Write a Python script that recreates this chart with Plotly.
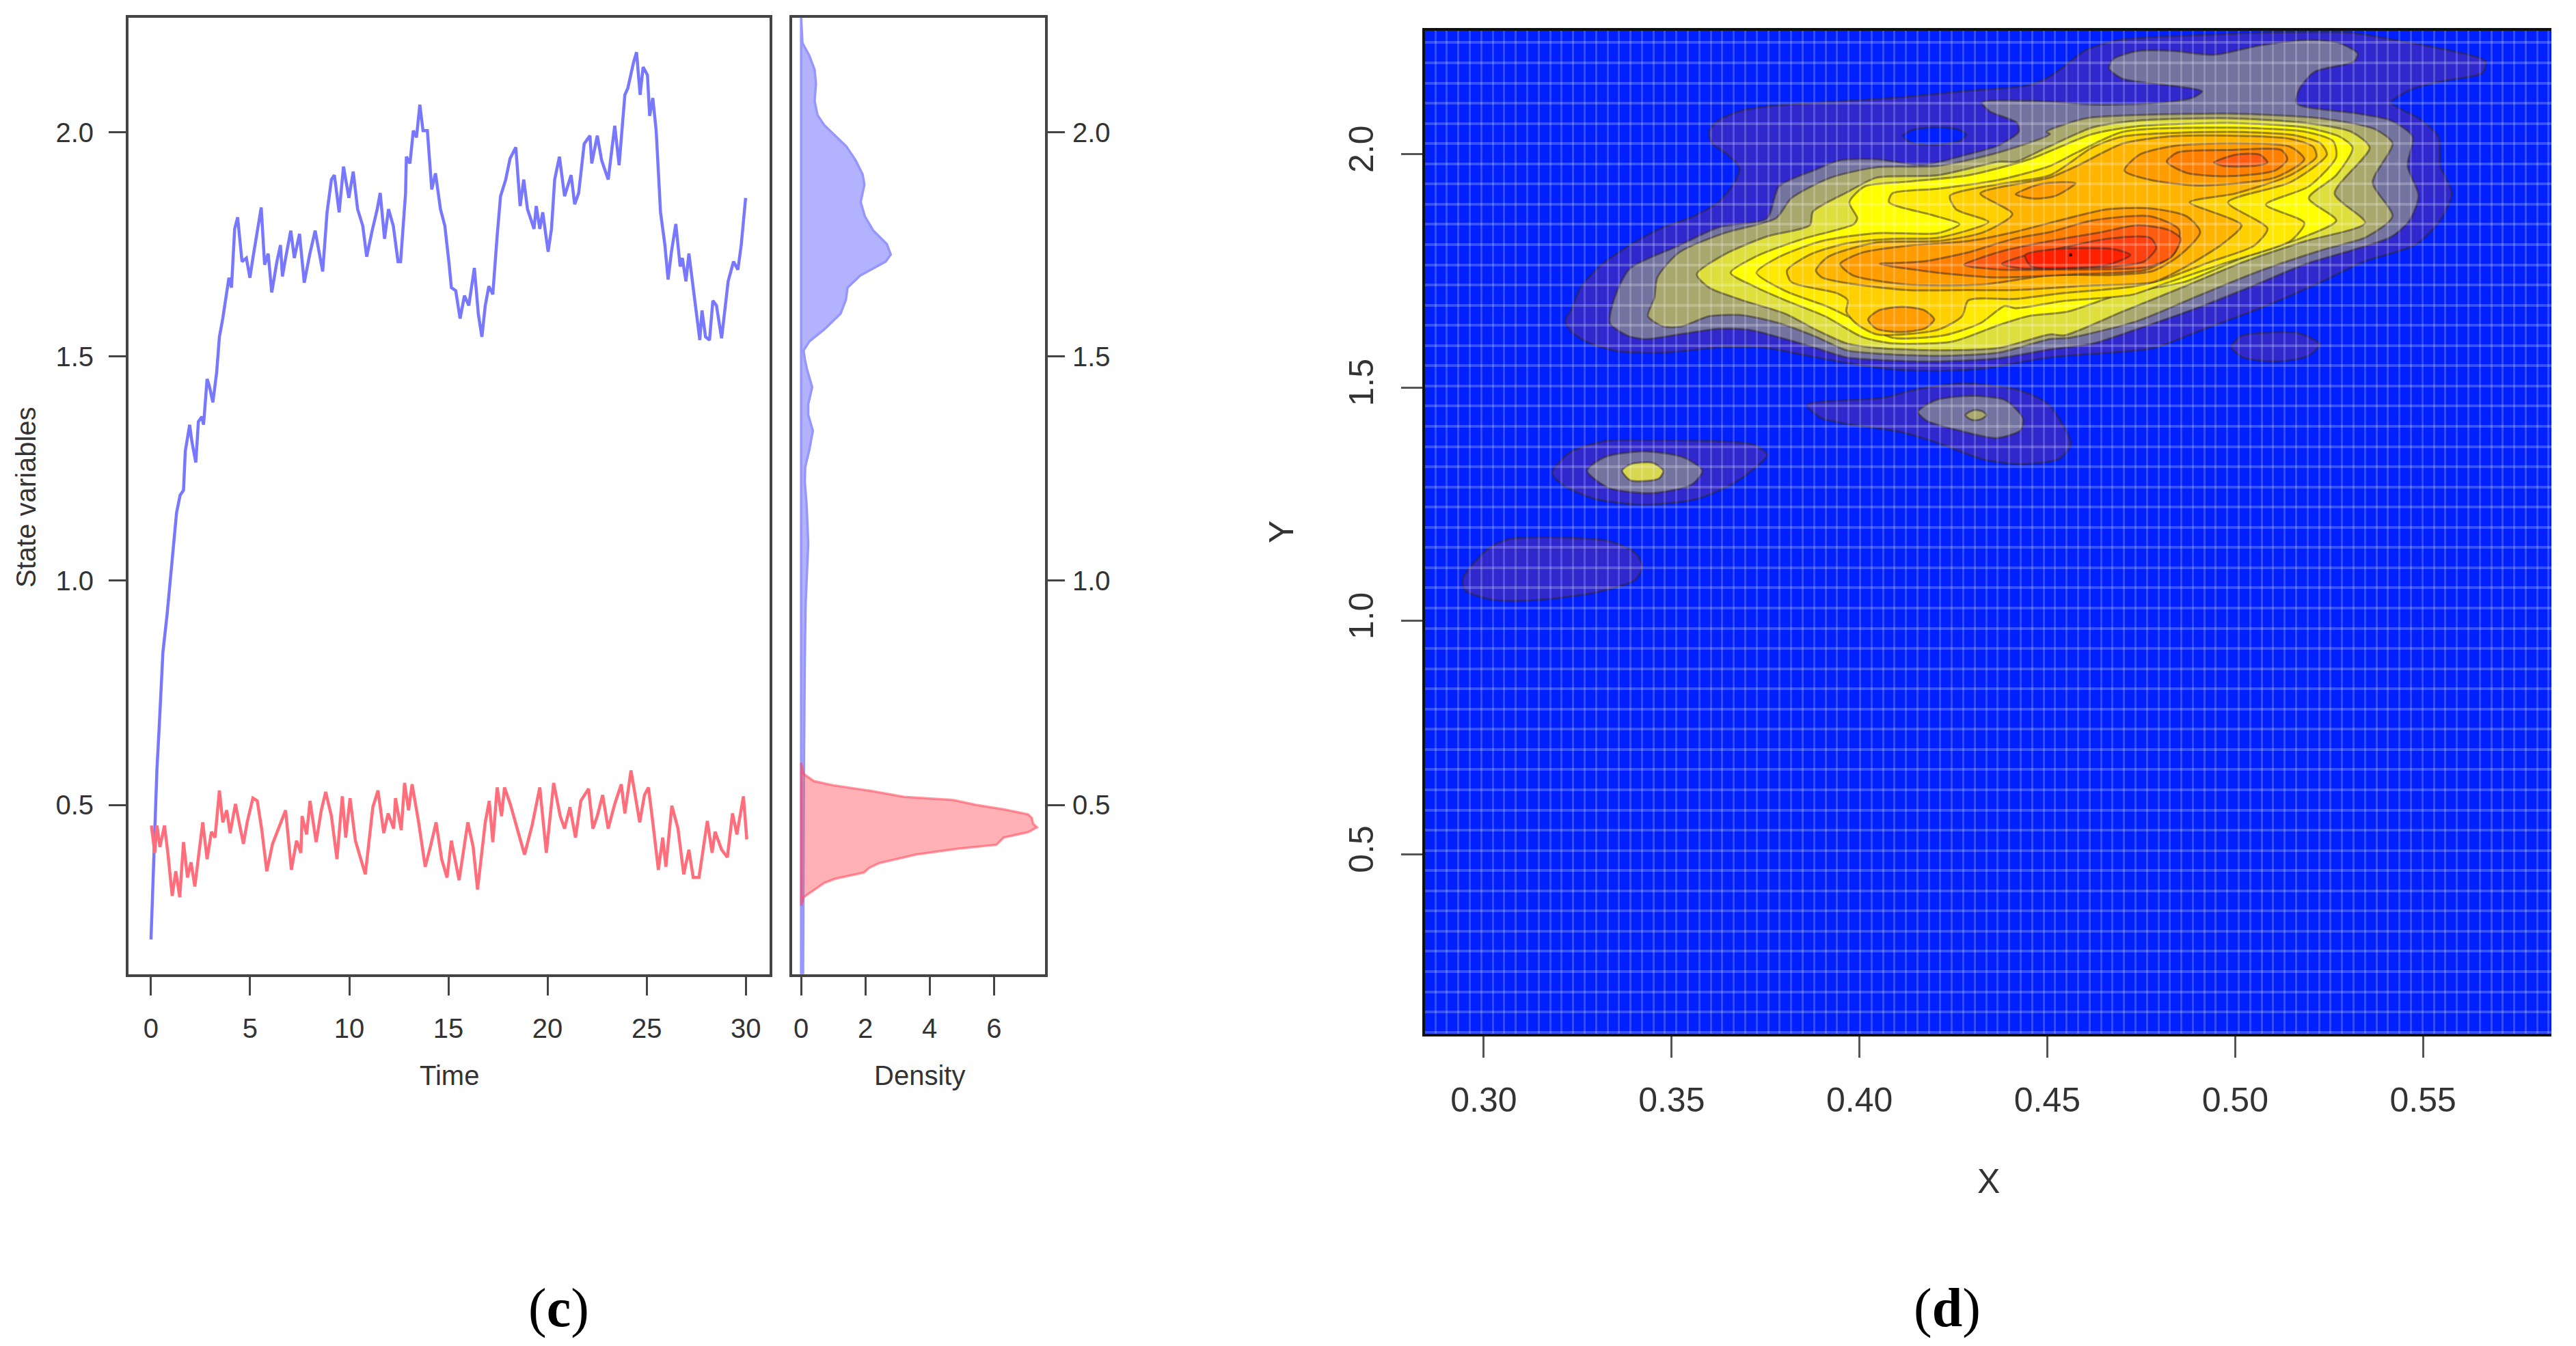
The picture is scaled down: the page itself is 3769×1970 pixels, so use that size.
import plotly.graph_objects as go

W, H = 3769, 1970

# ---------- panel (c): state trajectories (time, state) ----------
blue_path = [(0,.2),(.1,.33),(.2,.47),(.3,.58),(.41,.67),(.5,.76),(.6,.84),(.81,.924),(1.0,1.02),(1.15,1.08),
(1.29,1.152),(1.47,1.191),(1.64,1.202),(1.73,1.289),(1.95,1.348),(2.06,1.311),(2.26,1.264),(2.39,1.355),(2.57,1.366),(2.65,1.348),
(2.83,1.45),(2.94,1.435),(3.12,1.398),(3.31,1.464),(3.45,1.544),(3.62,1.585),(3.82,1.639),(3.93,1.676),(4.06,1.654),(4.22,1.785),
(4.37,1.811),(4.59,1.712),(4.81,1.72),(4.99,1.676),(5.14,1.72),(5.36,1.778),(5.56,1.833),(5.73,1.705),(5.91,1.73),(6.09,1.643),
(6.35,1.712),(6.53,1.749),(6.63,1.679),(6.79,1.72),(7.05,1.781),(7.23,1.72),(7.49,1.774),(7.73,1.665),(8.0,1.727),(8.28,1.781),
(8.46,1.741),(8.66,1.69),(8.88,1.822),(9.1,1.895),(9.25,1.905),(9.49,1.822),(9.71,1.924),(9.98,1.854),(10.2,1.913),(10.42,1.829),
(10.68,1.792),(10.88,1.723),(11.14,1.778),(11.41,1.829),(11.56,1.865),(11.78,1.763),(11.98,1.829),(12.22,1.792),(12.46,1.712),(12.59,1.712),
(12.84,1.865),(12.88,1.946),(13.06,1.931),(13.23,2.004),(13.39,1.989),(13.56,2.062),(13.72,2.004),(13.94,2.004),(14.16,1.873),(14.35,1.909),
(14.6,1.829),(14.82,1.792),(15.04,1.705),(15.15,1.654),(15.37,1.647),(15.59,1.585),(15.81,1.636),(16.03,1.614),(16.31,1.698),(16.51,1.595),
(16.69,1.544),(16.86,1.614),(17.04,1.657),(17.24,1.639),(17.46,1.77),(17.63,1.858),(17.89,1.895),(18.11,1.942),(18.4,1.967),(18.62,1.836),
(18.8,1.895),(18.99,1.829),(19.32,1.785),(19.43,1.836),(19.61,1.785),(19.76,1.822),(20.03,1.734),(20.2,1.785),(20.36,1.895),(20.6,1.946),
(20.86,1.858),(21.19,1.905),(21.37,1.84),(21.57,1.865),(21.85,1.975),(22.14,1.993),(22.23,1.931),(22.51,1.993),(22.73,1.938),(23.06,1.895),
(23.39,2.015),(23.61,1.927),(23.9,2.084),(24.05,2.099),(24.34,2.157),(24.49,2.179),(24.67,2.084),(24.82,2.146),(25.04,2.128),(25.15,2.037),
(25.31,2.077),(25.48,2.004),(25.7,1.822),(25.92,1.749),(26.08,1.672),(26.25,1.734),(26.47,1.796),(26.69,1.701),(26.8,1.72),(26.98,1.668),
(27.13,1.73),(27.35,1.654),(27.68,1.537),(27.79,1.603),(27.97,1.544),(28.17,1.537),(28.34,1.625),(28.52,1.614),(28.78,1.541),(29.11,1.668),
(29.38,1.712),(29.6,1.694),(29.77,1.749),(29.99,1.854)]

red_path = [(.02,.454),(.19,.393),(.30,.454),(.45,.406),(.68,.454),(.85,.393),(1.07,.297),(1.25,.352),(1.45,.294),(1.64,.417),
(1.84,.338),(2.02,.372),(2.21,.318),(2.39,.379),(2.61,.461),(2.83,.379),(3.05,.44),(3.23,.427),(3.45,.532),(3.62,.461),
(3.82,.488),(3.99,.437),(4.26,.502),(4.66,.413),(4.85,.461),(5.14,.515),(5.36,.509),(5.58,.447),(5.84,.352),(6.13,.413),
(6.35,.437),(6.79,.488),(7.08,.355),(7.34,.42),(7.56,.393),(7.62,.475),(7.85,.434),(8.02,.509),(8.33,.417),(8.59,.488),
(8.81,.529),(9.1,.475),(9.38,.379),(9.65,.519),(9.82,.427),(10.04,.515),(10.31,.42),(10.81,.345),(11.19,.495),(11.45,.532),
(11.74,.437),(11.96,.481),(12.24,.447),(12.33,.515),(12.62,.444),(12.79,.549),(12.99,.488),(13.17,.546),(13.5,.461),(13.83,.362),
(14.09,.406),(14.38,.461),(14.66,.379),(14.93,.338),(15.15,.42),(15.54,.332),(15.98,.461),(16.25,.406),(16.47,.311),(16.86,.461),
(17.06,.509),(17.24,.417),(17.46,.539),(17.68,.475),(17.83,.539),(18.12,.502),(18.84,.389),(19.22,.454),(19.61,.539),(19.94,.393),
(20.31,.549),(20.64,.475),(20.86,.447),(21.13,.495),(21.41,.427),(21.68,.509),(22.07,.536),(22.29,.447),(22.51,.475),(22.78,.522),
(23.06,.447),(23.39,.502),(23.72,.546),(23.9,.481),(24.21,.577),(24.65,.461),(24.89,.522),(25.09,.539),(25.31,.461),(25.59,.355),
(25.81,.427),(25.97,.362),(26.27,.498),(26.58,.447),(26.87,.345),(27.13,.4),(27.35,.338),(27.64,.338),(28.06,.464),(28.3,.393),
(28.45,.44),(28.78,.4),(29.07,.383),(29.33,.481),(29.55,.434),(29.88,.519),(30.05,.423)]

# marginal densities (density, state)
blue_density = [(0,2.257),(.04,2.2),(.257,2.171),(.42,2.14),(.46,2.109),(.42,2.07),(.509,2.039),(.725,2.016),(1.408,1.969),(1.696,1.938),
(1.912,1.907),(1.969,1.884),(1.854,1.845),(1.984,1.813),(2.236,1.782),(2.667,1.751),(2.789,1.728),(2.631,1.712),(1.84,1.681),(1.444,1.654),
(1.394,1.627),(1.228,1.596),(.725,1.561),(.257,1.534),(.077,1.514),(.113,1.495),(.185,1.471),(.343,1.432),(.221,1.394),(.221,1.37),
(.365,1.335),(.257,1.293),(.128,1.254),(.113,1.222),(.171,1.168),(.221,1.083),(.14,.95),(.11,.8),(.09,.6),(.08,.4),(.07,.2),(.06,.125),(0,.125)]

red_density = [(0,.594),(.077,.569),(.401,.553),(.977,.544),(2.2,.531),(3.2,.518),(4.72,.511),(5.44,.5),(6.3,.49),(7.06,.479),
(7.18,.471),(7.22,.458),(7.34,.45),(7.06,.439),(6.3,.427),(6.08,.411),(4.86,.402),(3.57,.389),(2.42,.37),(2.13,.36),
(1.95,.349),(1.05,.335),(.725,.326),(.33,.307),(.077,.294),(0,.275)]

time_ticks = [0, 5, 10, 15, 20, 25, 30]
state_ticks = [0.5, 1.0, 1.5, 2.0]
state_labels = ["0.5", "1.0", "1.5", "2.0"]
density_ticks = [0, 2, 4, 6]
x_ticks = [0.30, 0.35, 0.40, 0.45, 0.50, 0.55]
x_labels = ["0.30", "0.35", "0.40", "0.45", "0.50", "0.55"]

# ---------- panel (d): contour bands of the joint density (x, y) ----------
band1 = [(.3234,1.619),(.3283,1.595),(.3356,1.578),(.3478,1.575),(.364,1.587),(.3754,1.585),(.3851,1.57),(.3965,1.553),(.4095,1.539),(.4209,1.536),
(.433,1.541),(.4507,1.565),(.4782,1.585),(.4903,1.621),(.5066,1.67),(.5228,1.726),(.5342,1.77),(.548,1.806),(.5545,1.858),(.5577,1.916),
(.5546,1.975),(.5541,2.038),(.5488,2.077),(.5415,2.111),(.5472,2.14),(.5553,2.157),(.5658,2.174),(.5666,2.199),(.5423,2.245),(.5309,2.26),
(.5066,2.26),(.4903,2.255),(.4692,2.245),(.4603,2.223),(.4554,2.194),(.4514,2.17),(.4453,2.148),(.429,2.136),(.4127,2.123),(.3965,2.114),
(.3803,2.106),(.3689,2.094),(.3624,2.072),(.36,2.048),(.3608,2.023),(.3649,1.999),(.3681,1.97),(.3665,1.936),(.3624,1.897),(.3559,1.867),
(.3478,1.843),(.3397,1.809),(.3316,1.765),(.3259,1.716),(.3234,1.668),(.3217,1.643)]
band1_hole = [(.4115,2.039),(.414,2.052),(.42,2.058),(.426,2.054),(.4285,2.042),(.4265,2.028),(.42,2.02),(.414,2.024)]
band1_a = [(.499,1.587),(.5015,1.61),(.509,1.618),(.517,1.616),(.5225,1.593),(.5195,1.568),(.511,1.556),(.502,1.565)]
band1_b = [(.3861,1.463),(.4064,1.478),(.4145,1.495),(.4272,1.509),(.4423,1.495),(.4504,1.463),(.4562,1.38),(.4533,1.348),(.4435,1.336),(.433,1.346),
(.4214,1.38),(.411,1.405),(.3901,1.434)]
band2_b = [(.4156,1.448),(.4203,1.473),(.4296,1.482),(.4388,1.473),(.4435,1.434),(.4429,1.409),(.4365,1.392),(.4261,1.409),(.4179,1.429)]
band3_b = [(.4282,1.441),(.4295,1.449),(.431,1.452),(.4328,1.449),(.4338,1.441),(.4325,1.433),(.431,1.43),(.4293,1.433)]
band1_c = [(.3182,1.317),(.3229,1.361),(.3322,1.385),(.3437,1.387),(.3716,1.378),(.3754,1.356),(.3669,1.297),(.3565,1.261),(.3426,1.249),(.3298,1.261),(.3217,1.288)]
band2_c = [(.3275,1.322),(.3322,1.351),(.3426,1.363),(.353,1.351),(.3582,1.322),(.3553,1.292),(.3449,1.274),(.3333,1.285)]
band3_c = [(.3368,1.322),(.3391,1.336),(.3449,1.339),(.3478,1.322),(.3466,1.305),(.3391,1.301)]
band1_d = [(.2945,1.092),(.3014,1.156),(.3066,1.175),(.3182,1.179),(.3333,1.171),(.3403,1.146),(.3422,1.117),(.3403,1.088),(.3298,1.061),(.3125,1.044),(.302,1.046),(.295,1.066)]

band2 = [(.3336,1.638),(.3381,1.612),(.3429,1.604),(.3519,1.614),(.3624,1.626),(.3705,1.624),(.3803,1.604),(.3884,1.585),(.3965,1.565),(.4087,1.558),
(.4209,1.556),(.4371,1.563),(.4507,1.582),(.4619,1.594),(.4741,1.626),(.4903,1.672),(.5041,1.716),(.5188,1.765),(.5309,1.794),(.5415,1.823),
(.5464,1.858),(.5488,1.911),(.5459,1.975),(.5472,2.038),(.5415,2.072),(.5326,2.087),(.5163,2.109),(.5171,2.14),(.5212,2.177),(.5317,2.199),
(.5326,2.216),(.5277,2.238),(.5196,2.245),(.5066,2.233),(.4944,2.213),(.4838,2.221),(.4741,2.221),(.4676,2.204),(.4664,2.184),(.47,2.162),
(.4822,2.148),(.4912,2.135),(.4887,2.121),(.4782,2.109),(.4619,2.106),(.4498,2.113),(.4326,2.111),(.4347,2.092),(.442,2.067),(.4424,2.048),
(.4371,2.019),(.429,2.0),(.4168,1.977),(.4046,1.989),(.3949,1.987),(.3884,1.967),(.3786,1.931),(.3754,1.863),(.3624,1.843),(.3519,1.804),
(.3389,1.755),(.3348,1.692)]

band3 = [(.3437,1.653),(.3478,1.631),(.3527,1.631),(.36,1.653),(.3689,1.655),(.3786,1.638),(.3884,1.609),(.3965,1.58),(.4046,1.573),(.4209,1.568),
(.4371,1.575),(.4507,1.604),(.4562,1.607),(.4741,1.643),(.4903,1.697),(.5066,1.75),(.5228,1.794),(.535,1.823),(.5419,1.867),(.5366,1.94),
(.5419,2.023),(.5374,2.053),(.5228,2.077),(.4985,2.087),(.4741,2.084),(.4603,2.077),(.4498,2.048),(.4507,2.043),(.4371,2.004),(.4209,1.975),
(.4046,1.972),(.3924,1.95),(.3819,1.906),(.3778,1.863),(.364,1.831),(.3519,1.789),(.3462,1.736),(.3454,1.692)]

band4 = [(.3567,1.743),(.36,1.714),(.3689,1.687),(.3803,1.658),(.3884,1.624),(.3965,1.595),(.4046,1.585),(.4209,1.58),(.4371,1.585),(.4507,1.614),
(.4546,1.612),(.4701,1.663),(.4863,1.716),(.5025,1.77),(.5188,1.814),(.5346,1.853),(.5265,1.916),(.5358,2.014),(.5309,2.048),(.5188,2.067),
(.4985,2.077),(.4741,2.072),(.4619,2.057),(.4498,2.014),(.4416,1.984),(.4371,1.984),(.4209,1.955),(.4046,1.95),(.3973,1.921),(.3876,1.877),
(.3868,1.848),(.3754,1.824),(.364,1.785)]

band5 = [(.3657,1.746),(.3722,1.78),(.3851,1.819),(.3985,1.85),(.3994,1.863),(.3973,1.897),(.4014,1.931),(.4127,1.941),(.429,1.955),(.4452,1.989),
(.4619,2.043),(.4741,2.06),(.4985,2.067),(.5188,2.057),(.5277,2.038),(.5313,2.014),(.5269,1.955),(.5196,1.906),(.5269,1.858),(.5171,1.819),
(.5025,1.78),(.4863,1.726),(.4701,1.702),(.4555,1.663),(.4449,1.653),(.4371,1.634),(.4249,1.599),(.4087,1.595),(.4006,1.609),(.3908,1.653),
(.3803,1.687),(.3722,1.716)]

band6 = [(.3726,1.746),(.3786,1.78),(.39,1.814),(.4046,1.831),(.4209,1.831),(.4266,1.85),(.4192,1.87),(.4079,1.897),(.4087,1.916),(.4209,1.926),
(.4371,1.945),(.4507,1.975),(.4579,2.004),(.4701,2.048),(.4985,2.057),(.5188,2.048),(.5261,2.028),(.5269,1.994),(.5196,1.931),(.5082,1.892),
(.5184,1.853),(.5147,1.814),(.4985,1.77),(.4806,1.721),(.4725,1.699),(.4538,1.685),(.4416,1.67),(.4387,1.675),(.4322,1.638),(.4225,1.612),
(.4087,1.607),(.4006,1.638),(.3916,1.673),(.3803,1.707)]

band7 = [(.3807,1.751),(.3868,1.785),(.3965,1.809),(.4087,1.819),(.4209,1.821),(.4343,1.855),(.4257,1.882),(.4241,1.911),(.4371,1.936),(.4507,1.955),
(.4619,2.014),(.4701,2.038),(.4985,2.048),(.5163,2.04),(.5228,2.023),(.5244,1.999),(.5147,1.94),(.4981,1.897),(.5086,1.841),(.505,1.804),
(.4936,1.77),(.4806,1.731),(.4725,1.716),(.4538,1.702),(.4416,1.69),(.429,1.687),(.4273,1.653),(.4209,1.624),(.4046,1.614),(.399,1.638),
(.3965,1.663),(.3969,1.687),(.3941,1.702),(.3819,1.726)]

band8 = [(.3884,1.751),(.3916,1.78),(.4046,1.811),(.4209,1.814),(.433,1.833),(.4407,1.872),(.4322,1.916),(.4452,1.941),(.4507,1.95),(.4579,1.975),
(.4701,2.023),(.4822,2.038),(.4985,2.04),(.5147,2.033),(.5208,2.016),(.5216,1.994),(.5147,1.955),(.5001,1.916),(.4879,1.897),(.5017,1.848),
(.4968,1.809),(.4871,1.76),(.4782,1.726),(.4619,1.719),(.4416,1.709),(.429,1.709),(.4127,1.709),(.3965,1.724),(.39,1.736)]

band9 = [(.3949,1.765),(.4006,1.789),(.4127,1.804),(.429,1.814),(.4411,1.833),(.4507,1.853),(.466,1.882),(.4774,1.884),(.4871,1.867),(.4907,1.833),
(.4855,1.785),(.4782,1.75),(.466,1.741),(.4507,1.741),(.433,1.721),(.4127,1.721),(.3981,1.741)]
band9_low = [(.4023,1.646),(.405,1.665),(.4111,1.673),(.4172,1.666),(.4199,1.646),(.4175,1.627),(.4111,1.619),(.4045,1.626)]
band9_top = [(.4705,1.965),(.4745,1.999),(.4838,2.018),(.4985,2.023),(.5147,2.016),(.5184,1.989),(.5106,1.95),(.4903,1.933),(.4774,1.945)]
band9_mid = [(.4416,1.914),(.4481,1.936),(.4575,1.938),(.4522,1.911),(.4465,1.905)]

band10 = [(.4054,1.765),(.4168,1.77),(.429,1.79),(.4411,1.819),(.4507,1.833),(.4619,1.858),(.4774,1.867),(.4851,1.838),(.4839,1.789),(.4766,1.753),
(.4579,1.743),(.4371,1.736),(.4209,1.746)]
band10_top = [(.4818,1.984),(.4847,2.004),(.4985,2.009),(.5123,2.009),(.5139,1.989),(.5106,1.965),(.4985,1.953),(.4871,1.96)]

band11 = [(.4278,1.763),(.433,1.78),(.4387,1.794),(.4507,1.814),(.4644,1.833),(.4741,1.848),(.4822,1.838),(.4855,1.819),(.483,1.78),(.4766,1.758),
(.4538,1.753),(.4371,1.753)]
band11_top = [(.4944,1.982),(.5001,1.999),(.5066,1.999),(.5086,1.982),(.505,1.975),(.4968,1.975)]

band12 = [(.4379,1.765),(.4428,1.78),(.4507,1.794),(.466,1.819),(.4774,1.821),(.479,1.799),(.4757,1.77),(.4684,1.76),(.4498,1.755),(.4436,1.755)]
band13 = [(.4441,1.784),(.4522,1.797),(.4676,1.797),(.4721,1.784),(.466,1.763),(.4457,1.76)]
peak = (.4562, 1.7845)

BG = "rgb(0,32,255)"
C1, C2, C3, C4 = "rgb(48,40,205)", "rgb(115,115,160)", "rgb(168,168,110)", "rgb(222,222,60)"
C5, C6, C7, C8 = "#FFFF00", "#FFE800", "#FFCF00", "#FFB400"
C9, C10, C11, C12, C13 = "#FF9C00", "#FF8000", "#FF5C10", "#FF4010", "#FF2000"

contours = [(band1, C1), (band1_hole, BG), (band1_a, C1), (band1_b, C1), (band2_b, C2), (band3_b, C3),
            (band1_c, C1), (band2_c, C2), (band3_c, "rgb(215,215,80)"), (band1_d, C1),
            (band2, C2), (band3, C3), (band4, C4), (band5, C5), (band6, C6), (band7, C7), (band8, C8),
            (band9, C9), (band9_low, C9), (band9_top, C9), (band9_mid, C9),
            (band10, C10), (band10_top, C10), (band11, C11), (band11_top, C11), (band12, C12), (band13, C13)]

fig = go.Figure()


def unzip(p):
    return [a for a, _ in p], [b for _, b in p]


def closed(p):
    return p + [p[0]]


# left panel
x, y = unzip(blue_path)
fig.add_trace(go.Scatter(x=x, y=y, mode="lines", line=dict(color="rgb(120,120,255)", width=4.5), xaxis="x", yaxis="y"))
x, y = unzip(red_path)
fig.add_trace(go.Scatter(x=x, y=y, mode="lines", line=dict(color="rgb(255,110,122)", width=4.5), xaxis="x", yaxis="y"))

# density panel
x, y = unzip(closed(blue_density))
fig.add_trace(go.Scatter(x=x, y=y, mode="lines", fill="toself", fillcolor="rgb(178,178,255)",
                         line=dict(color="rgb(150,150,255)", width=3.5), xaxis="x2", yaxis="y2"))
x, y = unzip(closed(red_density))
fig.add_trace(go.Scatter(x=x, y=y, mode="lines", fill="toself", fillcolor="rgba(255,90,100,0.47)",
                         line=dict(color="rgba(255,70,90,0.55)", width=3.5), xaxis="x2", yaxis="y2"))

# contour panel
for poly, col in contours:
    x, y = unzip(closed(poly))
    fig.add_trace(go.Scatter(x=x, y=y, mode="lines", fill="toself", fillcolor=col,
                             line=dict(color="rgba(50,40,40,0.5)", width=3, shape="spline", smoothing=0.7),
                             xaxis="x3", yaxis="y3"))
fig.add_trace(go.Scatter(x=[peak[0]], y=[peak[1]], mode="markers", marker=dict(color="#400000", size=5),
                         xaxis="x3", yaxis="y3"))
# invisible trace so the mesh axes exist as a subplot drawn above the bands
fig.add_trace(go.Scatter(x=[0.4], y=[1.0], mode="markers", marker=dict(opacity=0), xaxis="x4", yaxis="y4"))


def dx(a, b):
    return [a / W, b / W]


def dy(top, bottom):
    return [1 - bottom / H, 1 - top / H]


axis_col = "#444444"
tf_small = dict(family="Liberation Sans", size=40, color="#333333")
tf_big = dict(family="Liberation Sans", size=50, color="#333333")
common = dict(showgrid=False, zeroline=False, showline=True, linecolor=axis_col, linewidth=4, mirror=True,
              ticks="outside", tickcolor=axis_col, tickwidth=3)

fig.update_layout(
    width=W, height=H, autosize=False, showlegend=False, margin=dict(l=0, r=0, t=0, b=0),
    paper_bgcolor="white", plot_bgcolor="rgba(0,0,0,0)",
    xaxis=dict(domain=dx(188, 1126), range=[-1.135, 31.2], tickvals=time_ticks, ticklen=27, tickfont=tf_small,
               ticklabelstandoff=14, anchor="y", **common),
    yaxis=dict(domain=dy(26, 1426), range=[0.122, 2.256], tickvals=state_ticks, ticktext=state_labels, ticklen=25,
               tickfont=tf_small, ticklabelstandoff=14, anchor="x", **common),
    xaxis2=dict(domain=dx(1159, 1529), range=[-0.28, 7.59], tickvals=density_ticks, ticklen=27, tickfont=tf_small,
                ticklabelstandoff=14, anchor="y2", **common),
    yaxis2=dict(domain=dy(26, 1426), range=[0.122, 2.256], tickvals=state_ticks, ticktext=state_labels, ticklen=25,
                tickfont=tf_small, ticklabelstandoff=3, side="right", anchor="x2", **common),
    xaxis3=dict(domain=dx(2085, 3733), range=[0.28436, 0.58418], tickvals=x_ticks, ticktext=x_labels, ticklen=31,
                tickfont=tf_big, ticklabelstandoff=19, anchor="y3", showgrid=False, zeroline=False, showline=True,
                linecolor="#111111", linewidth=4, mirror=True, ticks="outside", tickcolor="#555555", tickwidth=3),
    yaxis3=dict(domain=dy(45, 1513), range=[0.1155, 2.2646], tickvals=state_ticks,
                ticktext=state_labels, ticklen=31, tickfont=tf_big, ticklabelstandoff=21, tickangle=-90, anchor="x3",
                showgrid=False, zeroline=False, showline=True, linecolor="#111111", linewidth=4, ticks="outside",
                tickcolor="#555555", tickwidth=3),
    xaxis4=dict(domain=dx(2085, 3733), range=[0.28436, 0.58418], anchor="y4", tick0=0.29933, dtick=0.003055,
                showgrid=True, gridcolor="rgba(255,255,255,0.2)", gridwidth=3, zeroline=False, showline=False,
                ticks="", showticklabels=False),
    yaxis4=dict(domain=dy(45, 1513), range=[0.1155, 2.2646], anchor="x4", tick0=0.5516, dtick=0.04327,
                showgrid=True, gridcolor="rgba(255,255,255,0.22)", gridwidth=4, zeroline=False, showline=False,
                ticks="", showticklabels=False),
)

# blue field behind the contour panel
fig.add_shape(type="rect", xref="x3 domain", yref="y3 domain", x0=0, x1=1, y0=0, y1=1,
              fillcolor=BG, line_width=0, layer="below")


def label(text, px, py, size, family="Liberation Sans", color="#333333", angle=0):
    fig.add_annotation(text=text, x=px / W, y=1 - py / H, xref="paper", yref="paper", showarrow=False,
                       xanchor="center", yanchor="middle", textangle=angle, font=dict(family=family, size=size, color=color))


label("Time", 657, 1574, 40)
label("Density", 1345, 1574, 40)
label("State variables", 38, 728, 40, angle=-90)
label("X", 2909, 1729, 50)
label("Y", 1875, 779, 50, angle=-90)
label("(<b>c</b>)", 817, 1914, 80, family="Liberation Serif", color="#000000")
label("(<b>d</b>)", 2849, 1914, 80, family="Liberation Serif", color="#000000")

fig.write_html("out.html", config=dict(displayModeBar=False),
               post_script="document.body.style.margin='0';document.body.style.overflow='hidden';")
